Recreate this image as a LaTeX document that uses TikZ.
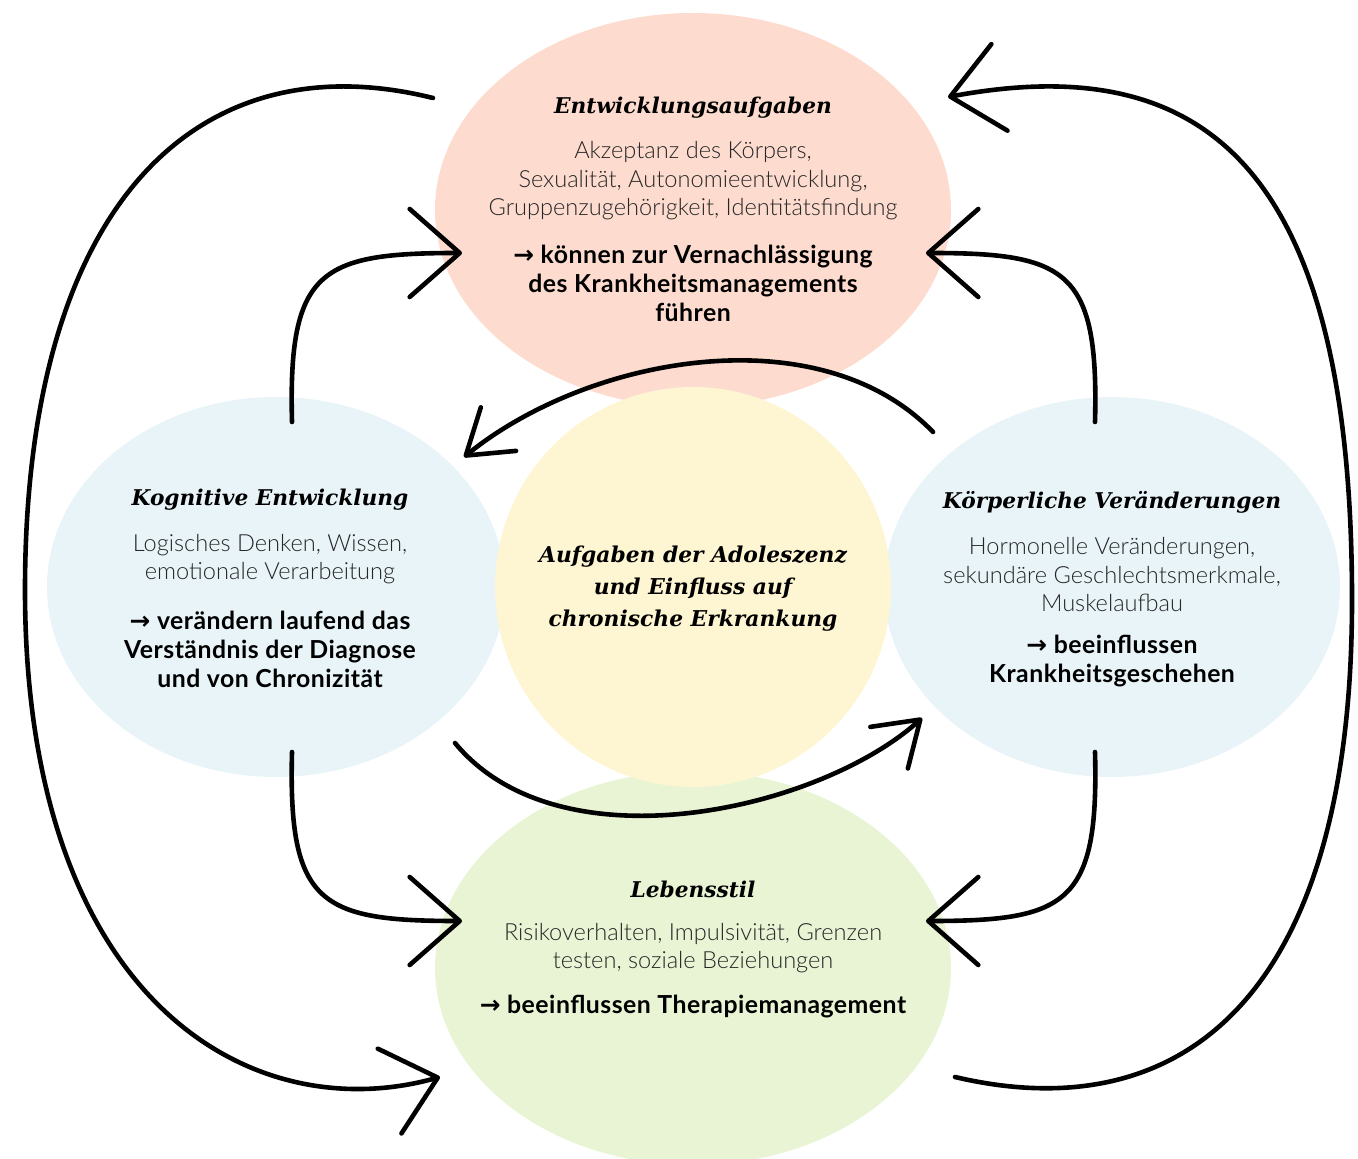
\documentclass[tikz,border=0pt]{standalone}
\usepackage{fontspec}
\setmainfont{Lato Light}[BoldFont=Lato Bold, BoldFeatures={LetterSpace=2}]
\newfontfamily\titelfont{DejaVu Serif}
\newfontfamily\symfont{DejaVu Sans}
\usetikzlibrary{shapes.geometric,arrows.meta,positioning}

\definecolor{lachs}{HTML}{FDDCCF}
\definecolor{hellblau}{HTML}{E8F4F8}
\definecolor{hellgelb}{HTML}{FEF5D3}
\definecolor{hellgruen}{HTML}{E9F4D5}
\definecolor{textgrau}{HTML}{262626}

\newcommand{\folgepfeil}{{\symfont\bfseries →}}

\tikzset{
  blase/.style={ellipse, draw=none, inner sep=0pt},
  titel/.style={font=\titelfont\bfseries\itshape\fontsize{10.85}{14}\selectfont, align=center},
  beschr/.style={font=\fontsize{11.8}{14.25}\selectfont, text=textgrau, align=center},
  folge/.style={font=\bfseries\fontsize{12.4}{14.5}\selectfont, align=center},
  pfeil/.style={line width=2.3pt, line cap=round, -{Straight Barb[length=25pt,width=44pt,round]}},
  bogenpfeil/.style={line width=2.3pt, line cap=round, -{Straight Barb[length=21pt,width=28pt,round]}},
}

\begin{document}
\begin{tikzpicture}[x=0.5pt, y=-0.5pt]
  \useasboundingbox (0,0) rectangle (1358,1159);

  % Blasen
  \node[blase, fill=lachs, minimum width=258pt, minimum height=197pt] (entw) at (693,210) {};
  \node[blase, fill=hellblau, minimum width=229pt, minimum height=190pt] (kogn) at (276,587) {};
  \node[blase, fill=hellblau, minimum width=228pt, minimum height=190pt] (koerp) at (1112,587) {};
  \node[blase, fill=hellgruen, minimum width=258pt, minimum height=197pt] (leben) at (693,968) {};
  \node[blase, fill=hellgelb, minimum width=198pt, minimum height=200pt] (zentr) at (693,587) {};

  % Texte
  \node[titel] (entw-titel) at (693,108) {Entwicklungsaufgaben};
  \node[beschr] (entw-text) at (693,181) {Akzeptanz des Körpers,\\ Sexualität, Autonomieentwicklung,\\ Gruppenzugehörigkeit, Identitätsfindung};
  \node[folge] (entw-folge) at (693,283) {\folgepfeil\ können zur Vernachlässigung\\ des Krankheitsmanagements\\ führen};

  \node[titel] (kogn-titel) at (270,500) {Kognitive Entwicklung};
  \node[beschr] (kogn-text) at (270,559) {Logisches Denken, Wissen,\\ emotionale Verarbeitung};
  \node[folge] (kogn-folge) at (270,649) {\folgepfeil\ verändern laufend das\\ Verständnis der Diagnose\\ und von Chronizität};

  \node[titel] (koerp-titel) at (1112,502) {Körperliche Veränderungen};
  \node[beschr] (koerp-text) at (1112,575) {Hormonelle Veränderungen,\\ sekundäre Geschlechtsmerkmale,\\ Muskelaufbau};
  \node[folge] (koerp-folge) at (1112,661) {\folgepfeil\ beeinflussen\\ Krankheitsgeschehen};

  \node[titel, font=\titelfont\bfseries\itshape\fontsize{10.9}{16}\selectfont] (zentr-text) at (693,589) {Aufgaben der Adoleszenz\\ und Einfluss auf\\ chronische Erkrankung};

  \node[titel] (leben-titel) at (693,889) {Lebensstil};
  \node[beschr] (leben-text) at (693,948) {Risikoverhalten, Impulsivität, Grenzen\\ testen, soziale Beziehungen};
  \node[folge] (leben-folge) at (693,1007) {\folgepfeil\ beeinflussen Therapiemanagement};

  % Endpunkte der Pfeile
  \coordinate (kogn-n) at (292,422);
  \coordinate (kogn-s) at (292,752);
  \coordinate (koerp-n) at (1095,422);
  \coordinate (koerp-s) at (1095,752);
  \coordinate (entw-w) at (462,253);
  \coordinate (entw-o) at (926,253);
  \coordinate (leben-w) at (462,921);
  \coordinate (leben-o) at (926,921);
  \coordinate (bogen-start) at (933,432);
  \coordinate (bogen-ziel) at (464,457);
  \coordinate (mulde-start) at (455,743);
  \coordinate (mulde-ziel) at (922,718);
  \coordinate (links-start) at (433,98);
  \coordinate (links-ziel) at (440,1077);
  \coordinate (rechts-start) at (955,1077);
  \coordinate (rechts-ziel) at (948,97);

  % Pfeile
  \draw[pfeil] (kogn-n) .. controls (288,270) and (320,253) .. (entw-w);
  \draw[pfeil] (koerp-n) .. controls (1099,270) and (1067,253) .. (entw-o);
  \draw[pfeil] (kogn-s) .. controls (288,904) and (320,921) .. (leben-w);
  \draw[pfeil] (koerp-s) .. controls (1099,904) and (1067,921) .. (leben-o);
  \draw[bogenpfeil] (bogen-start) .. controls (820,315) and (590,355) .. (bogen-ziel);
  \draw[bogenpfeil] (mulde-start) .. controls (560,870) and (820,810) .. (mulde-ziel);
  \draw[pfeil] (links-start) .. controls (200,40) and (25,200) .. (25,590)
    .. controls (25,1000) and (250,1130) .. (links-ziel);
  \draw[pfeil] (rechts-start) .. controls (1180,1130) and (1352,1000) .. (1352,600)
    .. controls (1352,160) and (1200,50) .. (rechts-ziel);
\end{tikzpicture}
\end{document}
